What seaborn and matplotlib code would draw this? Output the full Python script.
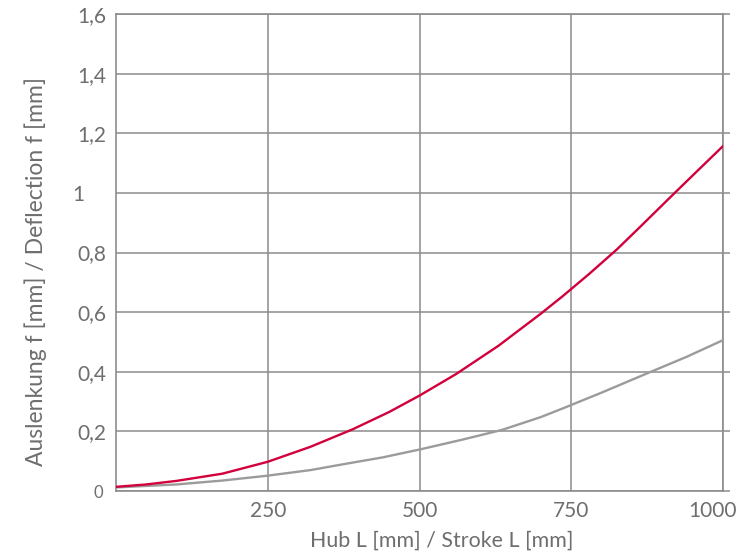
import matplotlib
matplotlib.use("Agg")
import matplotlib.pyplot as plt
import matplotlib.transforms as mtransforms
import numpy as np
import pandas as pd
import seaborn as sns

# Stroke L [mm] and deflection f [mm] for the two profiles
stroke_red = [0, 50, 100, 175, 250, 320, 390, 450, 500, 560, 630, 700, 735, 780, 825, 863, 920, 960, 1000]
deflection_red = [0.014, 0.022, 0.034, 0.058, 0.098, 0.148, 0.207, 0.265, 0.320, 0.392, 0.487, 0.595, 0.652, 0.729, 0.810, 0.885, 0.999, 1.078, 1.157]

stroke_grey = [0, 100, 175, 248, 320, 375, 440, 502, 570, 636, 700, 736, 800, 872, 940, 1000]
deflection_grey = [0.012, 0.022, 0.035, 0.051, 0.070, 0.090, 0.113, 0.140, 0.172, 0.205, 0.248, 0.277, 0.330, 0.392, 0.450, 0.506]

x_ticks = [250, 500, 750, 1000]
x_tick_labels = ["250", "500", "750", "1000"]
y_ticks = [0, 0.2, 0.4, 0.6, 0.8, 1.0, 1.2, 1.4, 1.6]
y_tick_labels = ["0", "0,2", "0,4", "0,6", "0,8", "1    ", "1,2", "1,4", "1,6"]

x_label = "Hub L [mm] / Stroke L [mm]"
y_label = "Auslenkung f [mm] / Deflection f [mm]"

sns.set_theme(style="white")
plt.rcParams["font.family"] = ["Lato", "DejaVu Sans"]

text_color = "#6e6e6e"
grid_color = "#8c8c8c"
red = "#d2003c"
grey = "#9b9b9b"

df = pd.concat([
    pd.DataFrame({"L": stroke_red, "f": deflection_red, "profile": "a"}),
    pd.DataFrame({"L": stroke_grey, "f": deflection_grey, "profile": "b"}),
], ignore_index=True)

fig = plt.figure(figsize=(7.39, 5.58), dpi=100)
ax = fig.add_axes([116 / 739, 1 - 491 / 558, 607 / 739, 477 / 558])

sns.lineplot(data=df, x="L", y="f", hue="profile", palette={"a": red, "b": grey},
             hue_order=["b", "a"], linewidth=1.7, legend=False, ax=ax, zorder=3)

ax.set_xlim(0, 1000)
ax.set_ylim(0, 1.6)

ax.set_xticks(x_ticks)
ax.set_xticklabels(x_tick_labels)
ax.set_yticks(y_ticks)
ax.set_yticklabels(y_tick_labels)
ax.set_xticks([0], minor=True)

ax.grid(True, which="major", color=grid_color, linewidth=1.1, zorder=1)
ax.tick_params(axis="x", which="major", length=0, pad=7, labelsize=15, labelcolor=text_color)
ax.tick_params(axis="x", which="minor", length=5, width=1.1, color=grid_color, direction="out")
ax.tick_params(axis="y", which="major", length=5, width=1.1, color=grid_color, direction="out",
               pad=2, labelsize=15, labelcolor=text_color, right=True)

# smaller zero on the deflection axis
ylabels = ax.get_yticklabels()
ylabels[0].set_fontsize(12)
ylabels[0].set_transform(ylabels[0].get_transform()
                         + mtransforms.ScaledTranslation(-3 / 100, -1 / 100, fig.dpi_scale_trans))

# keep the last stroke label inside the figure
last = ax.get_xticklabels()[-1]
last.set_transform(last.get_transform() + mtransforms.ScaledTranslation(-10 / 100, 0, fig.dpi_scale_trans))

for side in ["left", "right", "top", "bottom"]:
    ax.spines[side].set_color(grid_color)
    ax.spines[side].set_linewidth(1.2)
    ax.spines[side].set_visible(True)

ax.set_xlabel(x_label, fontsize=15.4, color=text_color)
ax.set_ylabel(y_label, fontsize=16.5, color=text_color)
ax.xaxis.set_label_coords((442 - 116) / 607, -(531 - 491) / 477)
ax.yaxis.set_label_coords((47 - 116) / 607, (491 - 272) / 477)

fig.savefig("out.png", dpi=100)
